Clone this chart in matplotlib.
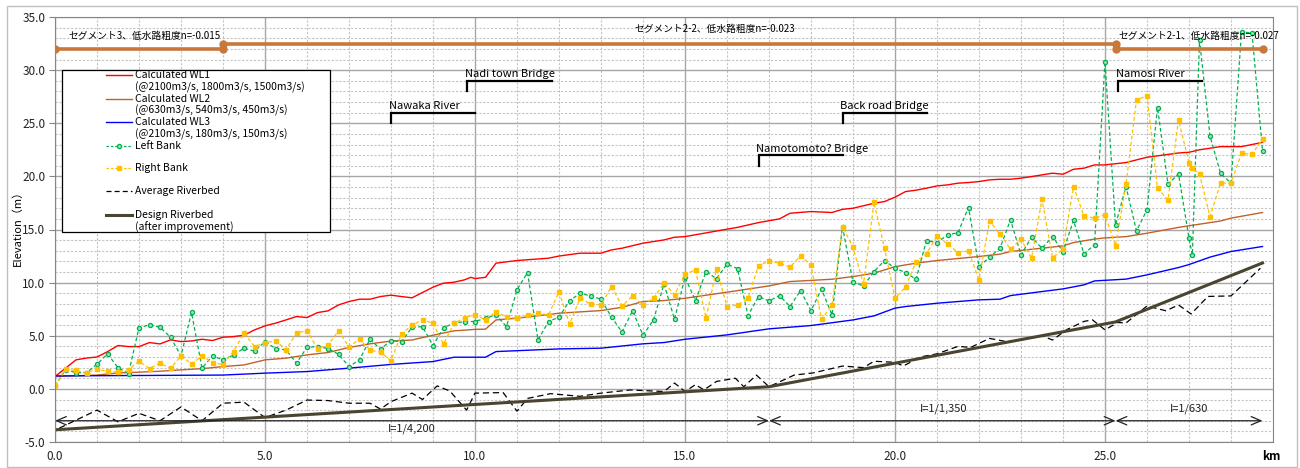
import numpy as np
import matplotlib
matplotlib.use('Agg')
import matplotlib.pyplot as plt
from matplotlib.patches import Rectangle

plt.rcParams['font.family'] = ['Noto Sans CJK JP', 'DejaVu Sans']

# survey stations for the bank levels (km)
bank_km = np.insert(np.arange(0.0, 28.76, 0.25), 109, 27.08)

left_bank = [
    0.28, 1.79, 1.53, 1.53, 2.32, 3.29, 2.0, 1.44, 5.77, 6.02, 5.8, 4.86, 3.1, 7.2, 1.95, 3.1, 2.73, 3.2, 3.83, 3.55, 4.45,
    3.8, 3.67, 2.42, 3.92, 3.98, 3.8, 3.26, 2.1, 2.73, 4.67, 3.74, 4.55, 4.45, 5.8, 5.86, 4.08, 5.77, 6.18, 6.34, 6.34,
    6.65, 6.96, 5.87, 9.32, 10.95, 4.61, 6.34, 6.75, 8.28, 9.0, 8.75, 8.44, 6.75, 5.36, 7.34, 5.05, 6.49, 9.88, 6.55, 10.51,
    8.31, 11.04, 10.38, 11.73, 11.32, 6.9, 8.69, 8.28, 8.78, 7.75, 9.25, 7.37, 9.38, 6.96, 15.28, 10.04, 9.69, 11.04, 12.08, 11.35,
    10.95, 10.32, 13.96, 13.77, 14.49, 14.7, 17.07, 11.51, 12.39, 13.24, 15.91, 12.61, 14.27, 13.24, 14.33, 12.92, 15.85, 12.71, 13.55, 30.8,
    15.44, 19.04, 14.87, 16.85, 26.48, 19.26, 20.24, 14.18, 12.6, 32.85, 23.8, 20.3, 19.36, 33.6, 33.5, 22.4,
]
right_bank = [
    0.28, 1.85, 1.73, 1.53, 1.85, 1.64, 1.6, 1.79, 2.6, 1.91, 2.42, 1.95, 3.1, 2.35, 3.1, 2.48, 2.29, 3.51, 5.24, 3.98, 4.36,
    4.5, 3.7, 5.24, 5.49, 3.78, 4.14, 5.44, 3.95, 4.69, 3.64, 3.46, 2.65, 5.16, 6.02, 6.49, 6.18, 4.22, 6.18, 6.67, 7.0,
    6.49, 7.28, 6.75, 6.65, 6.93, 7.12, 6.96, 9.16, 6.09, 8.53, 8.0, 7.9, 9.63, 7.81, 8.75, 7.9, 8.53, 9.95, 8.85, 10.79,
    11.2, 6.65, 11.26, 7.75, 7.9, 8.53, 11.61, 12.02, 11.83, 11.45, 12.52, 11.64, 6.56, 7.9, 15.28, 13.33, 9.85, 17.57, 13.24, 8.53,
    9.57, 11.98, 12.71, 14.4, 13.65, 12.83, 12.99, 10.26, 15.81, 14.55, 13.15, 14.09, 12.3, 17.85, 12.36, 13.15, 19.04, 16.28, 16.06, 16.38,
    13.46, 19.26, 27.2, 27.58, 18.89, 17.76, 25.32, 21.3, 20.77, 20.24, 16.22, 19.36, 19.36, 22.18, 22.08, 23.53,
]

# calculated water levels
wl1_km = [0.0, 0.5, 0.75, 1.0, 1.25, 1.5, 1.75, 2.0, 2.25, 2.5, 2.75, 3.0, 3.25, 3.5, 3.75, 4.0, 4.25, 4.5, 4.75,
          5.0, 5.25, 5.5, 5.75, 6.0, 6.25, 6.5, 6.75, 7.0, 7.25, 7.5, 7.75, 8.0, 8.25, 8.5, 8.75, 9.0, 9.25, 9.5,
          9.75, 9.9, 10.0, 10.25, 10.5, 11.0, 11.75, 12.0, 12.5, 13.0, 13.25, 13.5, 14.0, 14.5, 14.75, 15.0, 16.0,
          16.25, 16.75, 17.25, 17.5, 18.0, 18.5, 18.75, 19.0, 19.5, 19.75, 20.0, 20.25, 20.5, 20.75, 21.0, 21.25,
          21.5, 21.75, 22.0, 22.25, 22.5, 22.75, 23.0, 23.25, 23.5, 23.75, 24.0, 24.25, 24.5, 24.75, 25.0, 25.5,
          26.0, 26.75, 27.0, 27.25, 27.75, 28.25, 28.75]
wl1 = [1.16, 2.73, 2.9, 3.0, 3.5, 4.08, 3.98, 3.98, 4.36, 4.23, 4.61, 4.45, 4.51, 4.67, 4.55, 4.86, 4.92, 5.05, 5.55,
       5.93, 6.18, 6.49, 6.81, 6.71, 7.18, 7.34, 7.9, 8.22, 8.44, 8.44, 8.69, 8.82, 8.69, 8.57, 9.07, 9.57, 9.95, 10.04,
       10.26, 10.5, 10.38, 10.5, 11.83, 12.08, 12.3, 12.5, 12.77, 12.77, 13.08, 13.24, 13.71, 14.02, 14.27, 14.33, 15.03,
       15.2, 15.65, 16.0, 16.53, 16.69, 16.6, 16.9, 17.0, 17.47, 17.63, 18.04, 18.57, 18.7, 18.89, 19.1, 19.2,
       19.36, 19.42, 19.51, 19.67, 19.73, 19.73, 19.83, 19.98, 20.14, 20.3, 20.2, 20.67, 20.77, 21.08, 21.08, 21.3,
       21.8, 22.2, 22.27, 22.5, 22.8, 22.8, 23.2]

wl2_km = [0.0, 1.0, 1.5, 2.0, 2.5, 3.0, 3.5, 4.0, 4.5, 5.0, 5.5, 6.0, 6.5, 7.0, 7.5, 8.0, 8.5, 9.0, 9.5, 10.0,
          10.25, 10.5, 11.0, 12.0, 13.0, 13.5, 14.0, 14.5, 15.0, 16.0, 17.0, 17.5, 18.5, 19.0, 19.5, 20.0, 20.5,
          21.0, 22.0, 22.5, 22.75, 23.5, 24.0, 24.25, 24.75, 25.0, 25.5, 26.0, 26.75, 27.25, 27.75, 28.0, 28.75]
wl2 = [1.16, 1.3, 1.5, 1.57, 1.66, 1.79, 1.9, 2.1, 2.25, 2.73, 2.89, 3.2, 3.42, 3.9, 4.24, 4.5, 4.6, 5.05, 5.46, 5.6,
       5.62, 6.49, 6.65, 7.12, 7.37, 7.68, 8.22, 8.31, 8.53, 9.1, 9.69, 10.1, 10.32, 10.57, 10.89, 11.5, 11.83,
       12.08, 12.46, 12.68, 12.93, 13.24, 13.46, 13.77, 14.1, 14.21, 14.33, 14.65, 15.2, 15.5, 15.8, 16.07, 16.6]

wl3_km = [0.0, 4.0, 5.0, 6.0, 7.0, 8.0, 9.0, 9.5, 10.0, 10.25, 10.5, 12.0, 13.0, 14.0, 14.5, 15.0, 16.0, 17.0,
          18.0, 19.0, 19.5, 20.0, 20.25, 21.0, 22.0, 22.5, 22.75, 23.5, 24.0, 24.5, 24.75, 25.5, 26.0, 26.75,
          27.0, 27.5, 28.0, 28.75]
wl3 = [1.22, 1.3, 1.48, 1.63, 1.95, 2.3, 2.57, 2.98, 2.98, 2.98, 3.51, 3.76, 3.83, 4.24, 4.36, 4.67, 5.08, 5.65,
       5.96, 6.49, 6.87, 7.6, 7.75, 8.06, 8.38, 8.44, 8.78, 9.16, 9.41, 9.79, 10.16, 10.33, 10.73, 11.42,
       11.7, 12.4, 12.93, 13.4]

# riverbed
avg_bed_km = [0.1, 1.0, 1.5, 2.0, 2.5, 3.0, 3.5, 4.0, 4.5, 5.0, 5.5, 6.0, 6.5, 7.0, 7.5, 7.75, 8.0, 8.5, 8.75,
              9.1, 9.4, 9.8, 10.0, 10.67, 11.0, 11.25, 11.8, 12.5, 13.0, 13.7, 14.5, 14.75, 15.0, 15.25, 15.45,
              15.75, 16.2, 16.4, 16.7, 17.0, 17.6, 18.05, 18.75, 19.25, 19.5, 20.0, 20.2, 20.6, 21.0, 21.5, 21.8,
              22.25, 22.65, 23.0, 23.5, 23.75, 24.1, 24.5, 24.7, 25.0, 25.3, 25.5, 26.0, 26.45, 26.75, 27.05,
              27.45, 28.0, 28.7]
avg_bed = [-3.7, -2.0, -3.1, -2.3, -3.0, -1.7, -3.0, -1.35, -1.25, -2.7, -2.0, -1.05, -1.1, -1.35, -1.35, -1.9, -1.2,
           -0.4, -1.0, 0.28, -0.2, -2.0, -0.4, -0.35, -2.1, -0.9, -0.45, -0.7, -0.4, -0.1, -0.25, 0.55, -0.25, 0.4,
           -0.1, 0.7, 1.0, 0.2, 1.3, 0.2, 1.3, 1.5, 2.15, 2.0, 2.6, 2.5, 2.15, 3.0, 3.3, 4.0, 3.9, 4.75, 4.45, 4.6,
           5.0, 4.6, 5.6, 6.35, 6.5, 5.55, 6.25, 6.2, 7.8, 7.35, 7.9, 7.05, 8.7, 8.75, 11.35]

design_km = [0.0, 17.0, 25.25, 28.75]
design_bed = [-3.85, 0.2, 6.3, 11.85]
slope_labels = ['I=1/4,200', 'I=1/1,350', 'I=1/630']

# roughness segments
seg_start = [0.0, 4.0, 25.25]
seg_end = [4.0, 25.25, 28.75]
seg_level = [32.0, 32.5, 32.0]
seg_labels = ['セグメント3、低水路粗度n=-0.015', 'セグメント2-2、低水路粗度n=-0.023', 'セグメント2-1、低水路粗度n=-0.027']

# bridges / tributaries
site_names = ['Nawaka River', 'Nadi town Bridge', 'Namotomoto? Bridge', 'Back road Bridge', 'Namosi River']
site_km = [8.0, 9.82, 16.75, 18.75, 25.3]
site_end = [10.0, 11.83, 18.77, 20.75, 27.3]
site_level = [26.0, 29.0, 22.0, 26.0, 29.0]

c_wl1 = '#FF0000'
c_wl2 = '#C0622A'
c_wl3 = '#0000FF'
c_left = '#00B050'
c_right = '#FFC000'
c_design = '#4A4530'
c_seg = '#C8783A'

fig = plt.figure(figsize=(13, 4.68), dpi=100)
fig.patches.append(Rectangle((7 / 1300, 1 / 468), 1290 / 1300, 461 / 468, transform=fig.transFigure,
                             fill=False, ec='#BFBFBF', lw=1.0))
ax = fig.add_axes([55 / 1300, 1 - 442 / 468, 1218 / 1300, 425 / 468])

ax.set_xlim(0, 29)
ax.set_ylim(-5, 35)
ax.set_xticks(np.arange(0, 26, 5))
ax.set_xticklabels(['%.1f' % v for v in np.arange(0, 26, 5)])
ax.set_xticks(np.arange(0, 30, 1), minor=True)
ax.set_yticks(np.arange(-5, 36, 5))
ax.set_yticklabels(['%.1f' % v for v in np.arange(-5, 36, 5)])
ax.set_yticks(np.arange(-5, 36, 1), minor=True)
ax.set_axisbelow(True)
ax.grid(which='major', color='#A6A6A6', lw=1.0, ls='-')
ax.grid(which='minor', color='#C4C4C4', lw=0.8, ls=(0, (2, 1.5)))
ax.tick_params(axis='x', which='both', length=0, pad=6, labelsize=8.5, labelcolor='#222222')
ax.tick_params(axis='y', which='major', length=4, pad=3, labelsize=8.5, labelcolor='#222222', color='#868686')
ax.tick_params(axis='y', which='minor', length=0)
for s in ax.spines.values():
    s.set_color('#868686')

# series
ax.plot(wl1_km, wl1, color=c_wl1, lw=1.0)
ax.plot(wl2_km, wl2, color=c_wl2, lw=1.0)
ax.plot(wl3_km, wl3, color=c_wl3, lw=1.0)
ax.plot(bank_km, left_bank, color=c_left, lw=0.9, ls=(0, (3, 2)), marker='o', ms=3.0,
        mfc='#9FE0B5', mec=c_left, mew=0.9)
ax.plot(bank_km, right_bank, color=c_right, lw=0.9, ls=(0, (3, 2)), marker='s', ms=2.4,
        mfc=c_right, mec=c_right)
ax.plot(avg_bed_km, avg_bed, color='black', lw=0.9, ls=(0, (5, 3)))
ax.plot(design_km, design_bed, color=c_design, lw=2.2)

# slope arrows and labels
for k in range(len(design_km) - 1):
    ax.annotate('', xy=(design_km[k], -3), xytext=(design_km[k + 1], -3),
                arrowprops=dict(arrowstyle='<->,head_length=0.7,head_width=0.3', color='#222222',
                                lw=0.9, shrinkA=0, shrinkB=0))
ax.text(8.5, -3.75, slope_labels[0], fontsize=8, ha='center', va='center', color='#222222')
ax.text(21.15, -1.9, slope_labels[1], fontsize=8, ha='center', va='center', color='#222222')
ax.text(27.0, -1.9, slope_labels[2], fontsize=8, ha='center', va='center', color='#222222')

# roughness segments
for x0, x1, lv in zip(seg_start, seg_end, seg_level):
    ax.plot([x0, x1], [lv, lv], color=c_seg, lw=2.6, marker='o', ms=5, solid_capstyle='butt', zorder=4)
ax.text(0.31, 33.2, seg_labels[0], fontsize=7, ha='left', va='center')
ax.text(15.7, 33.85, seg_labels[1], fontsize=7, ha='center', va='center')
ax.text(25.33, 33.2, seg_labels[2], fontsize=7, ha='left', va='center')

# bridge / tributary brackets
for name, x0, x1, lv in zip(site_names, site_km, site_end, site_level):
    ax.plot([x0, x0, x1], [lv - 1, lv, lv], color='black', lw=1.6, solid_joinstyle='miter')
    ax.text(x0 - 0.05, lv + 0.15, name, fontsize=8, ha='left', va='bottom')

# legend box
ax.add_patch(Rectangle((0.17, 14.78), 6.38, 15.22, fc='white', ec='black', lw=0.9, zorder=6))
hx = [1.21, 1.83]
tx = 1.9
legend_rows = [
    (29.5, 'Calculated WL1', dict(color=c_wl1, lw=1.0)),
    (27.3, 'Calculated WL2', dict(color=c_wl2, lw=1.0)),
    (25.1, 'Calculated WL3', dict(color=c_wl3, lw=1.0)),
    (22.9, 'Left Bank', dict(color=c_left, lw=0.9, ls=(0, (2, 1.5)))),
    (20.8, 'Right Bank', dict(color=c_right, lw=0.9, ls=(0, (2, 1.5)))),
    (18.6, 'Average Riverbed', dict(color='black', lw=0.9, ls=(0, (4, 2.5)))),
    (16.4, 'Design Riverbed', dict(color=c_design, lw=2.2)),
]
for y, label, style in legend_rows:
    ax.plot(hx, [y, y], zorder=7, **style)
    ax.text(tx, y, label, fontsize=7.5, va='center', ha='left', zorder=7)
ax.plot([1.52], [22.9], marker='o', ms=3.0, mfc='#9FE0B5', mec=c_left, mew=0.9, zorder=8)
ax.plot([1.52], [20.8], marker='s', ms=2.4, mfc=c_right, mec=c_right, zorder=8)
sub_rows = [(28.36, '(@2100m3/s, 1800m3/s, 1500m3/s)'),
            (26.2, '(@630m3/s, 540m3/s, 450m3/s)'),
            (24.0, '(@210m3/s, 180m3/s, 150m3/s)'),
            (15.2, '(after improvement)')]
for y, label in sub_rows:
    ax.text(tx, y, label, fontsize=7.5, va='center', ha='left', zorder=7)

fig.text(18 / 1300, 1 - 225 / 468, 'Elevation（m）', rotation=90, fontsize=8, ha='center', va='center')
fig.text(1271 / 1300, 1 - 456 / 468, 'km', fontsize=8.5, weight='bold', ha='center', va='center')

fig.savefig('out.png', dpi=100)
